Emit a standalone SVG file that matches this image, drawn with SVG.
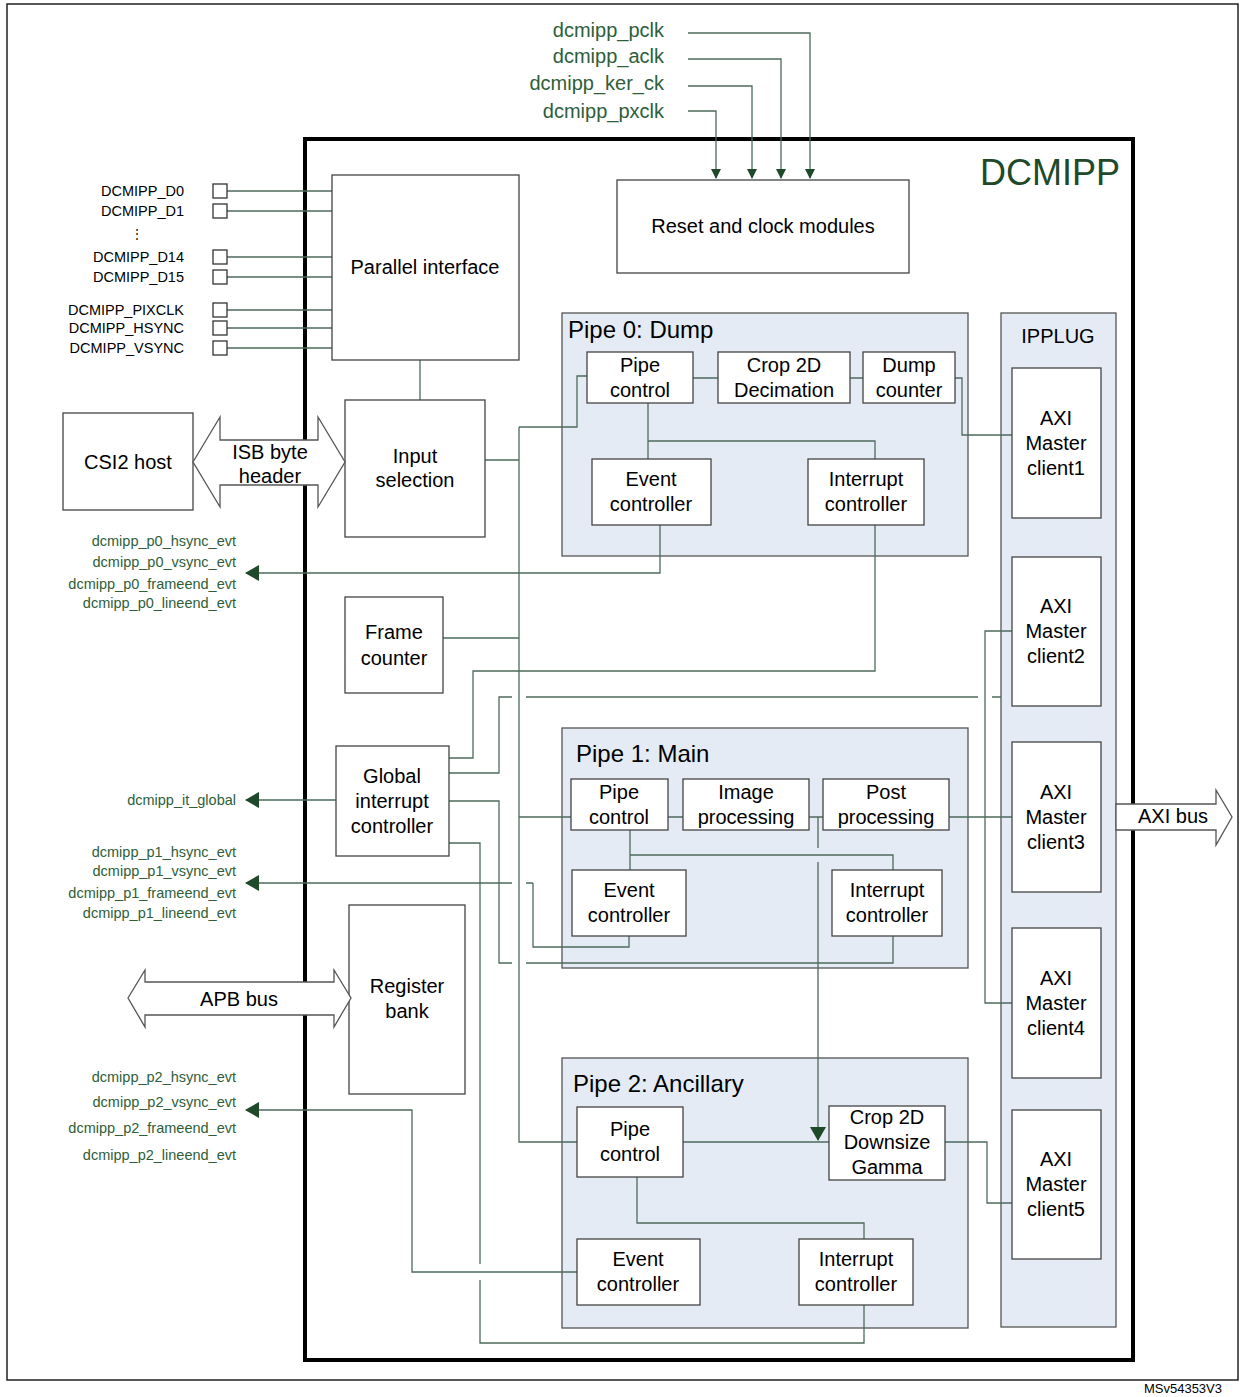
<svg xmlns="http://www.w3.org/2000/svg" width="1240" height="1397" viewBox="0 0 1240 1397">
<defs>
<marker id="ah" markerWidth="10" markerHeight="10" refX="9" refY="5" orient="auto" markerUnits="userSpaceOnUse"><path d="M0,0 L10,5 L0,10 z" fill="#1f4a2a"/></marker>
<marker id="ahb" markerWidth="14" markerHeight="16" refX="13" refY="8" orient="auto" markerUnits="userSpaceOnUse"><path d="M0,0 L14,8 L0,16 z" fill="#1f4a2a"/></marker>
<style>
text{font-family:"Liberation Sans",Arial,sans-serif;fill:#000}
.b{fill:#fff;stroke:#444;stroke-width:1.3}
.p{fill:#e4ebf5;stroke:#555;stroke-width:1.3}
.c{fill:none;stroke:#4d6b5c;stroke-width:1.3}
.n{font-size:20px;text-anchor:middle}
.pin{font-size:14.5px;text-anchor:end}
.ev{font-size:14.5px;text-anchor:end;fill:#2e5e3a}
.ck{font-size:20px;text-anchor:end;fill:#2e5e3a}
</style>
</defs>
<rect x="7" y="4" width="1231" height="1376" fill="#fff" stroke="#222" stroke-width="1.5"/>
<rect x="305" y="139" width="828" height="1221" fill="none" stroke="#000" stroke-width="4"/>
<text x="1120" y="185" style="font-size:36px;fill:#1f4a2a;text-anchor:end">DCMIPP</text>

<g id="pipe0"><rect class="p" x="562" y="313" width="406" height="243"/><text x="568" y="338" style="font-size:24px">Pipe 0: Dump</text></g>
<g id="pipe1"><rect class="p" x="562" y="728" width="406" height="240"/><text x="576" y="762" style="font-size:24px">Pipe 1: Main</text></g>
<g id="pipe2"><rect class="p" x="562" y="1058" width="406" height="270"/><text x="573" y="1092" style="font-size:24px">Pipe 2: Ancillary</text></g>
<g id="ipplug"><rect class="p" x="1001" y="313" width="115" height="1014"/><text class="n" x="1058" y="343">IPPLUG</text></g>

<g id="connectors">
<path class="c" d="M688,33 H810 V178" marker-end="url(#ah)"/>
<path class="c" d="M688,59 H781 V178" marker-end="url(#ah)"/>
<path class="c" d="M688,86 H752 V178" marker-end="url(#ah)"/>
<path class="c" d="M688,111 H716 V178" marker-end="url(#ah)"/>
<path class="c" d="M227,191 H332 M227,211 H332 M227,257 H332 M227,277 H332 M227,310 H332 M227,328 H332 M227,348 H332"/>
<path class="c" d="M420,360 V400"/>
<path class="c" d="M485,460 H519 M519,427 V1142 H577 M519,427 H577 V376 H587"/>
<path class="c" d="M648,403 V459 M648,441 H875 V459"/>
<path class="c" d="M693,378 H718 M850,378 H863 M955,378 H962 V435 H1012"/>
<path class="c" d="M660,525 V573 H246" marker-end="url(#ahb)"/>
<path class="c" d="M875,525 V671 H473 V758 H449"/>
<path class="c" d="M443,638 H519"/>
<path class="c" d="M449,773 H499 V697 H512 M526,697 H978 M992,697 H1001"/>
<path class="c" d="M336,800 H246" marker-end="url(#ahb)"/>
<path class="c" d="M449,801 H499 V963 H512 M526,963 H893 V936"/>
<path class="c" d="M449,843 H480 V1264 M480,1280 V1343 H864 V1305"/>
<path class="c" d="M533,883 H526 M512,883 H246" marker-end="url(#ahb)"/>
<path class="c" d="M533,883 V947 H629 V936"/>
<path class="c" d="M519,817 H571 M668,817 H683 M809,817 H823 M949,817 H1012"/>
<path class="c" d="M630,830 V870 M630,855 H893 V870"/>
<path class="c" d="M818,817 V848 M818,862 V1140" marker-end="url(#ahb)"/>
<path class="c" d="M683,1142 H829 M637,1177 V1223 H864 V1239"/>
<path class="c" d="M577,1272 H412 V1110 H246" marker-end="url(#ahb)"/>
<path class="c" d="M945,1142 H987 V1203 H1012"/>
<path class="c" d="M1012,631 H985 V1003 H1012"/>
</g>

<g id="clocks">
<text class="ck" x="664" y="37">dcmipp_pclk</text>
<text class="ck" x="664" y="63">dcmipp_aclk</text>
<text class="ck" x="664" y="90">dcmipp_ker_ck</text>
<text class="ck" x="664" y="118">dcmipp_pxclk</text>
</g>
<g id="pins" fill="#fff" stroke="#333" stroke-width="1.3">
<rect x="213" y="184" width="14" height="14"/><rect x="213" y="204" width="14" height="14"/>
<rect x="213" y="250" width="14" height="14"/><rect x="213" y="270" width="14" height="14"/>
<rect x="213" y="303" width="14" height="14"/><rect x="213" y="321" width="14" height="14"/><rect x="213" y="341" width="14" height="14"/>
</g>
<g id="pinlabels">
<text class="pin" x="184" y="196">DCMIPP_D0</text>
<text class="pin" x="184" y="216">DCMIPP_D1</text>
<text x="137" y="238" style="font-size:12px;text-anchor:middle">⋮</text>
<text class="pin" x="184" y="262">DCMIPP_D14</text>
<text class="pin" x="184" y="282">DCMIPP_D15</text>
<text class="pin" x="184" y="315">DCMIPP_PIXCLK</text>
<text class="pin" x="184" y="333">DCMIPP_HSYNC</text>
<text class="pin" x="184" y="353">DCMIPP_VSYNC</text>
</g>
<g id="evlabels">
<text class="ev" x="236" y="546">dcmipp_p0_hsync_evt</text>
<text class="ev" x="236" y="567">dcmipp_p0_vsync_evt</text>
<text class="ev" x="236" y="589">dcmipp_p0_frameend_evt</text>
<text class="ev" x="236" y="608">dcmipp_p0_lineend_evt</text>
<text class="ev" x="236" y="805">dcmipp_it_global</text>
<text class="ev" x="236" y="857">dcmipp_p1_hsync_evt</text>
<text class="ev" x="236" y="876">dcmipp_p1_vsync_evt</text>
<text class="ev" x="236" y="898">dcmipp_p1_frameend_evt</text>
<text class="ev" x="236" y="918">dcmipp_p1_lineend_evt</text>
<text class="ev" x="236" y="1082">dcmipp_p2_hsync_evt</text>
<text class="ev" x="236" y="1107">dcmipp_p2_vsync_evt</text>
<text class="ev" x="236" y="1133">dcmipp_p2_frameend_evt</text>
<text class="ev" x="236" y="1160">dcmipp_p2_lineend_evt</text>
</g>

<g id="reset"><rect class="b" x="617" y="180" width="292" height="93"/><text class="n" x="763" y="233">Reset and clock modules</text></g>
<g id="parallel"><rect class="b" x="332" y="175" width="187" height="185"/><text class="n" x="425" y="274">Parallel interface</text></g>
<g id="input"><rect class="b" x="345" y="400" width="140" height="137"/><text class="n" x="415" y="463">Input</text><text class="n" x="415" y="487">selection</text></g>
<g id="csi2"><rect class="b" x="63" y="413" width="130" height="97"/><text class="n" x="128" y="469">CSI2 host</text></g>
<g id="isb"><path d="M193,462 L220,417 V440 H318 V417 L345,462 L318,507 V485 H220 V507 Z" fill="#fff" stroke="#555" stroke-width="1.3"/><text class="n" x="270" y="459">ISB byte</text><text class="n" x="270" y="483">header</text></g>
<g id="frame"><rect class="b" x="345" y="597" width="98" height="96"/><text class="n" x="394" y="639">Frame</text><text class="n" x="394" y="665">counter</text></g>
<g id="global"><rect class="b" x="336" y="746" width="113" height="110"/><text class="n" x="392" y="783">Global</text><text class="n" x="392" y="808">interrupt</text><text class="n" x="392" y="833">controller</text></g>
<g id="regbank"><rect class="b" x="349" y="905" width="116" height="189"/><text class="n" x="407" y="993">Register</text><text class="n" x="407" y="1018">bank</text></g>
<g id="apb"><path d="M128,998 L145,970 V982 H334 V970 L351,998 L334,1027 V1015 H145 V1027 Z" fill="#fff" stroke="#555" stroke-width="1.3"/><text class="n" x="239" y="1006">APB bus</text></g>
<g id="axi"><path d="M1116,804 H1216 V790 L1232,817 L1216,845 V830 H1116 Z" fill="#fff" stroke="#555" stroke-width="1.3"/><text class="n" x="1173" y="823">AXI bus</text></g>

<g id="p0pc"><rect class="b" x="587" y="352" width="106" height="51"/><text class="n" x="640" y="372">Pipe</text><text class="n" x="640" y="397">control</text></g>
<g id="p0crop"><rect class="b" x="718" y="352" width="132" height="51"/><text class="n" x="784" y="372">Crop 2D</text><text class="n" x="784" y="397">Decimation</text></g>
<g id="p0dump"><rect class="b" x="863" y="352" width="92" height="51"/><text class="n" x="909" y="372">Dump</text><text class="n" x="909" y="397">counter</text></g>
<g id="p0ev"><rect class="b" x="592" y="459" width="119" height="66"/><text class="n" x="651" y="486">Event</text><text class="n" x="651" y="511">controller</text></g>
<g id="p0it"><rect class="b" x="808" y="459" width="116" height="66"/><text class="n" x="866" y="486">Interrupt</text><text class="n" x="866" y="511">controller</text></g>

<g id="p1pc"><rect class="b" x="571" y="779" width="97" height="51"/><text class="n" x="619" y="799">Pipe</text><text class="n" x="619" y="824">control</text></g>
<g id="p1img"><rect class="b" x="683" y="779" width="126" height="51"/><text class="n" x="746" y="799">Image</text><text class="n" x="746" y="824">processing</text></g>
<g id="p1post"><rect class="b" x="823" y="779" width="126" height="51"/><text class="n" x="886" y="799">Post</text><text class="n" x="886" y="824">processing</text></g>
<g id="p1ev"><rect class="b" x="572" y="870" width="114" height="66"/><text class="n" x="629" y="897">Event</text><text class="n" x="629" y="922">controller</text></g>
<g id="p1it"><rect class="b" x="832" y="870" width="110" height="66"/><text class="n" x="887" y="897">Interrupt</text><text class="n" x="887" y="922">controller</text></g>

<g id="p2pc"><rect class="b" x="577" y="1107" width="106" height="70"/><text class="n" x="630" y="1136">Pipe</text><text class="n" x="630" y="1161">control</text></g>
<g id="p2crop"><rect class="b" x="829" y="1106" width="116" height="74"/><text class="n" x="887" y="1124">Crop 2D</text><text class="n" x="887" y="1149">Downsize</text><text class="n" x="887" y="1174">Gamma</text></g>
<g id="p2ev"><rect class="b" x="577" y="1239" width="123" height="66"/><text class="n" x="638" y="1266">Event</text><text class="n" x="638" y="1291">controller</text></g>
<g id="p2it"><rect class="b" x="799" y="1239" width="114" height="66"/><text class="n" x="856" y="1266">Interrupt</text><text class="n" x="856" y="1291">controller</text></g>

<g id="axi1"><rect class="b" x="1012" y="368" width="89" height="150"/><text class="n" x="1056" y="425">AXI</text><text class="n" x="1056" y="450">Master</text><text class="n" x="1056" y="475">client1</text></g>
<g id="axi2"><rect class="b" x="1012" y="557" width="89" height="149"/><text class="n" x="1056" y="613">AXI</text><text class="n" x="1056" y="638">Master</text><text class="n" x="1056" y="663">client2</text></g>
<g id="axi3"><rect class="b" x="1012" y="742" width="89" height="150"/><text class="n" x="1056" y="799">AXI</text><text class="n" x="1056" y="824">Master</text><text class="n" x="1056" y="849">client3</text></g>
<g id="axi4"><rect class="b" x="1012" y="928" width="89" height="150"/><text class="n" x="1056" y="985">AXI</text><text class="n" x="1056" y="1010">Master</text><text class="n" x="1056" y="1035">client4</text></g>
<g id="axi5"><rect class="b" x="1012" y="1110" width="89" height="149"/><text class="n" x="1056" y="1166">AXI</text><text class="n" x="1056" y="1191">Master</text><text class="n" x="1056" y="1216">client5</text></g>

<text x="1222" y="1393" style="font-size:13px;text-anchor:end">MSv54353V3</text>
</svg>
